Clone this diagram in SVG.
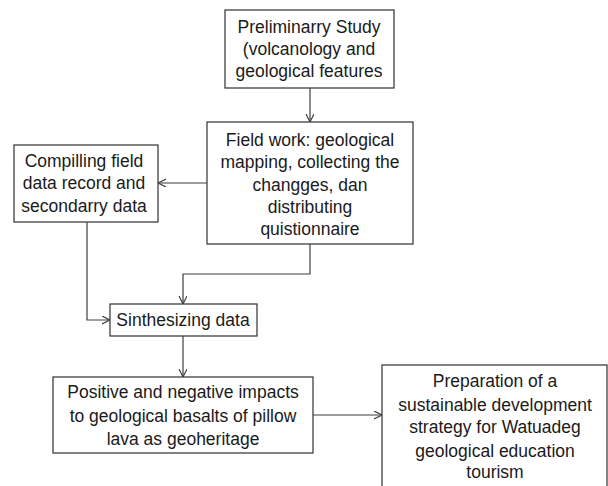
<svg xmlns="http://www.w3.org/2000/svg" width="608" height="486" viewBox="0 0 608 486">
<defs>
<style>
.box{fill:#fff;stroke:#3f3f3f;stroke-width:1.3}
.t{font-family:"Liberation Sans",Arial,sans-serif;font-size:17.5px;fill:#1a1a1a;text-anchor:middle}
.c{fill:none;stroke:#3f3f3f;stroke-width:1.2}
</style>
<marker id="ah" markerWidth="10" markerHeight="10" refX="8" refY="4" orient="auto" markerUnits="userSpaceOnUse">
<path d="M0,0 L8,4 L0,8" fill="none" stroke="#3f3f3f" stroke-width="1.2"/>
</marker>
</defs>
<rect width="608" height="486" fill="#fff"/>
<g id="connectors">
<path class="c" d="M310,88 V122" marker-end="url(#ah)"/>
<path class="c" d="M207,183 H158" marker-end="url(#ah)"/>
<path class="c" d="M87,222 V320 H110" marker-end="url(#ah)"/>
<path class="c" d="M310,244 V274 H183 V304" marker-end="url(#ah)"/>
<path class="c" d="M183,336 V377" marker-end="url(#ah)"/>
<path class="c" d="M313,415 H382" marker-end="url(#ah)"/>
</g>
<g id="preliminary">
<rect class="box" x="225" y="10" width="169" height="78"/>
<text class="t" x="309" y="33">Preliminarry Study</text>
<text class="t" x="309" y="55">(volcanology and</text>
<text class="t" x="309" y="77">geological features</text>
</g>
<g id="fieldwork">
<rect class="box" x="207" y="122" width="206" height="122"/>
<text class="t" x="310" y="146">Field work: geological</text>
<text class="t" x="310" y="168">mapping, collecting the</text>
<text class="t" x="310" y="191">changges, dan</text>
<text class="t" x="310" y="213">distributing</text>
<text class="t" x="310" y="235">quistionnaire</text>
</g>
<g id="compiling">
<rect class="box" x="14" y="145" width="144" height="77"/>
<text class="t" x="84" y="167">Compilling field</text>
<text class="t" x="84" y="189">data record and</text>
<text class="t" x="84" y="212">secondarry data</text>
</g>
<g id="synthesizing">
<rect class="box" x="110" y="304" width="147" height="32"/>
<text class="t" x="183" y="326">Sinthesizing data</text>
</g>
<g id="impacts">
<rect class="box" x="53" y="377" width="260" height="76"/>
<text class="t" x="183" y="398">Positive and negative impacts</text>
<text class="t" x="183" y="422">to geological basalts of pillow</text>
<text class="t" x="183" y="445">lava as geoheritage</text>
</g>
<g id="strategy">
<rect class="box" x="382" y="365" width="225" height="140"/>
<text class="t" x="495" y="387">Preparation of a</text>
<text class="t" x="495" y="411">sustainable development</text>
<text class="t" x="495" y="433">strategy for Watuadeg</text>
<text class="t" x="495" y="457">geological education</text>
<text class="t" x="495" y="478">tourism</text>
</g>
</svg>
